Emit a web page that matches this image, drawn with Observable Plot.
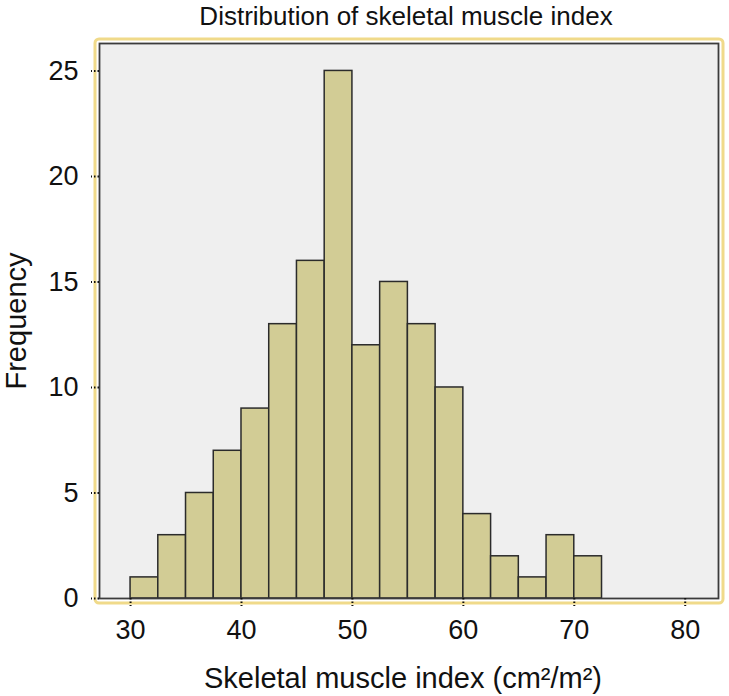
<!DOCTYPE html>
<html>
<head>
<meta charset="utf-8">
<script src="https://cdn.jsdelivr.net/npm/d3@7"></script>
<script src="https://cdn.jsdelivr.net/npm/@observablehq/plot@0.6"></script>
<style>
  body { margin: 0; background: white; }
</style>
</head>
<body>
<div id="chart"></div>
<script>
// histogram bins (width 2.5) and their counts
const binStarts = [30, 32.5, 35, 37.5, 40, 42.5, 45, 47.5, 50, 52.5, 55, 57.5, 60, 62.5, 65, 67.5, 70]
const counts = [1, 3, 5, 7, 9, 13, 16, 25, 12, 15, 13, 10, 4, 2, 1, 3, 2]
const binWidth = 2.5

const xTicks = [30, 40, 50, 60, 70, 80]
const yTicks = [0, 5, 10, 15, 20, 25]

const bins = binStarts.map((s, i) => ({x1: s, x2: s + binWidth, count: counts[i]}))

const font = 'Liberation Sans, Arial, Helvetica, sans-serif'

let chart = Plot.plot({
  width: 729,
  height: 696,
  marginTop: 43,
  marginBottom: 98,
  marginLeft: 99,
  marginRight: 11,
  style: {background: 'white', fontFamily: font, color: '#111'},
  x: {domain: [27.2, 83]},
  y: {domain: [0, 26.3]},
  marks: [
    // panel background
    Plot.frame({fill: '#efefef', stroke: null}),
    Plot.rectY(bins, {
      x1: 'x1', x2: 'x2', y: 'count',
      fill: '#d2cc95', stroke: '#2b2b2b', strokeWidth: 1.5
    }),
    // yellow outer border and dark panel frame
    Plot.frame({stroke: '#f0da8a', strokeWidth: 3, inset: -4.5, rx: 4}),
    Plot.frame({stroke: '#3c3c3c', strokeWidth: 1.8}),
    Plot.axisY(yTicks, {
      ticks: yTicks, tickSize: 8, tickPadding: 13, fontSize: 27,
      strokeDasharray: '1.5,2', strokeWidth: 2, label: null
    }),
    Plot.axisX(xTicks, {
      ticks: xTicks, tickSize: 8, tickPadding: 13, fontSize: 27,
      strokeDasharray: '1.5,2', strokeWidth: 2, label: null
    }),
    Plot.text(['Distribution of skeletal muscle index'], {
      frameAnchor: 'top', lineAnchor: 'middle', textAnchor: 'middle',
      dy: -27, dx: -3, fontSize: 26, fill: '#111'
    }),
    Plot.text(['Skeletal muscle index (cm²/m²)'], {
      frameAnchor: 'bottom', lineAnchor: 'middle', textAnchor: 'middle',
      dy: 80, dx: -6, fontSize: 29, fill: '#111'
    }),
    Plot.text(['Frequency'], {
      frameAnchor: 'left', lineAnchor: 'middle', textAnchor: 'middle',
      rotate: -90, dx: -83, fontSize: 29, fill: '#111'
    })
  ]
})

d3.select('#chart').append(() => chart)
</script>
</body>
</html>
